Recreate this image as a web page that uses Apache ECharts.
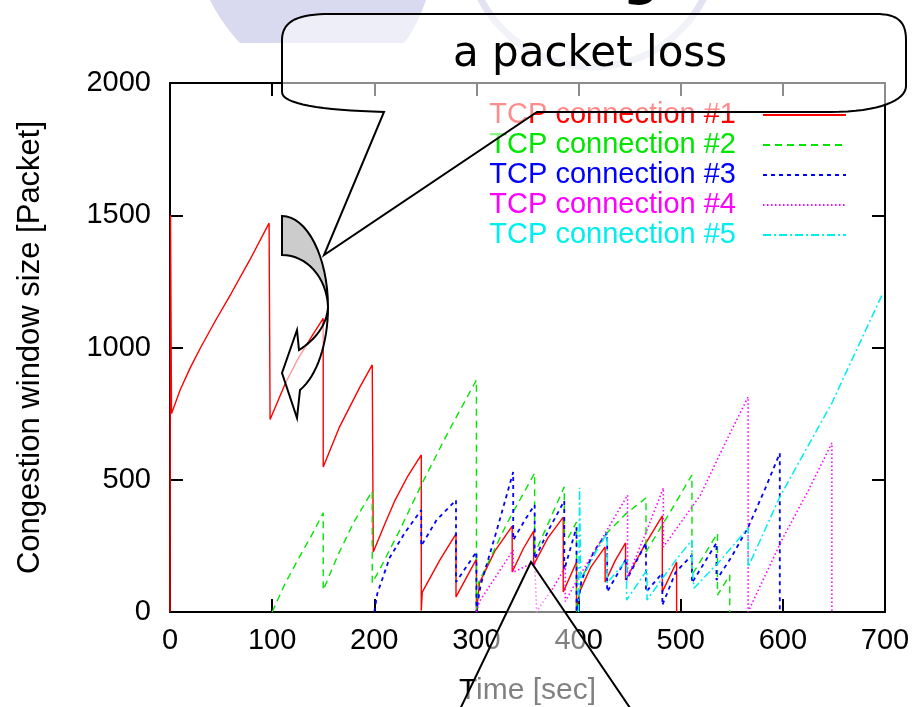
<!DOCTYPE html>
<html>
<head>
<meta charset="utf-8">
<script src="https://cdn.jsdelivr.net/npm/echarts@6/dist/echarts.min.js"></script>
<style>html,body{margin:0;padding:0;background:#fff;}#c{width:918px;height:707px;}</style>
</head>
<body>
<div id="c"></div>
<script>
// ---- data ----
const seriesNames = ['TCP connection #1','TCP connection #2','TCP connection #3','TCP connection #4','TCP connection #5'];
const xTickValues = [0,100,200,300,400,500,600,700];
const yTickValues = [0,500,1000,1500,2000];

const conn1 = [
[0,0],[0.5,1500],[1.5,750],[10,840],[20,925],[30,1000],[45,1105],[60,1205],[78,1330],[97,1470],
[98,728],[113,865],[125,955],[140,1050],[150,1110],
[150,548],[166,700],[186,851],[198,934],
[199,227],[210,330],[220,420],[233,515],[246,594],
[246,5],[247,75],[264,195],[280,295],
[280,57],[300,200],
[300,0],[303,110],[318,230],[335,325],
[335,151],[346,240],[356,306],
[356,178],[370,280],[385,359],
[385,76],[398,189],
[398,5],[401,76],[412,170],[426,246],
[426,113],[436,195],[446,261],
[446,121],[465,255],[482,363],
[482,76],[496,189],[496,0]
];
const conn2 = [
[100,0],[113,110],[127,210],[140,300],[150,375],
[150,83],[165,220],[180,340],[198,457],
[198,110],[206,166],[225,310],[247,488],[273,685],[300,877],
[300,0],[302,110],[330,336],[357,525],
[357,220],[372,350],[386,473],
[386,253],[398,340],
[398,0],[403,130],[424,284],[446,370],[466,431],
[466,227],[490,380],[511,518],
[511,140],[536,298],
[536,64],[548,140],[548,0]
];
const conn3 = [
[200,0],[203,70],[215,205],[230,300],[246,386],
[246,250],[261,348],[280,423],
[280,113],[300,227],
[300,0],[304,100],[320,310],[336,529],
[336,272],[347,345],[357,405],
[357,200],[372,320],[386,420],
[386,160],[398,320],
[398,0],[403,120],[415,230],[428,299],
[428,76],[447,204],
[447,121],[466,261],
[466,76],[482,147],
[482,26],[495,150],[511,215],
[511,110],[535,261],
[535,121],[550,210],[566,320],[582,460],[597,600],
[597,0]
];
const conn4 = [
[300,0],[303,40],[320,140],[336,234],
[336,150],[357,190],
[359,0],[362,20],[375,90],[387,170],
[387,40],[400,130],[424,284],[448,442],
[448,132],[467,310],[483,469],
[483,246],[519,440],[545,650],[566,813],
[566,0],[570,34],[599,272],[625,460],[648,639],
[648,0]
];
const conn5 = [
[400,0],[401,470],[402,130],[404,132],[416,220],[428,299],
[428,110],[447,197],
[447,45],[467,159],
[467,45],[483,132],[497,205],[511,272],
[511,185],[513,90],[540,200],[566,318],
[566,170],[597,435],[622,610],[648,790],[672,990],[697,1198]
];
const seriesData = [conn1, conn2, conn3, conn4, conn5];

// ---- styles ----
const colors = ['#ff0000','#00e600','#0000ff','#ff00ff','#00eeee'];
const dashes = ['solid',[7,5],[4,4],[1.5,2.5],[8,3,2,3]];
const widths = [1.4,1.4,1.8,1.6,1.5];
const FONT = "'Liberation Sans', Arial, Helvetica, sans-serif";

// flatten simple path segments (M/L/C/Q) into polygon points for decorative shapes
function flatten(segs){
  const pts=[]; let cx=0, cy=0;
  segs.forEach(s=>{
    const t=s[0];
    if(t==='M'||t==='L'){cx=s[1];cy=s[2];pts.push([cx,cy]);}
    else if(t==='C'){
      const [_,x1,y1,x2,y2,x,y]=s;
      for(let i=1;i<=16;i++){const u=i/16,v=1-u;
        pts.push([v*v*v*cx+3*v*v*u*x1+3*v*u*u*x2+u*u*u*x, v*v*v*cy+3*v*v*u*y1+3*v*u*u*y2+u*u*u*y]);}
      cx=x;cy=y;
    } else if(t==='Q'){
      const [_,x1,y1,x,y]=s;
      for(let i=1;i<=16;i++){const u=i/16,v=1-u;
        pts.push([v*v*cx+2*v*u*x1+u*u*x, v*v*cy+2*v*u*y1+u*u*y]);}
      cx=x;cy=y;
    }
  });
  return pts;
}

const lavender = flatten([['M',210,0],['L',426,0],['Q',416,28,404,43],['L',240,43],['Q',222,24,210,0]]);
const callout = flatten([['M',282,40],['C',282,20,300,14,330,14],['L',876,14],['C',898,14,906,22,906,40],['L',906,86],
  ['C',906,100,880,112,830,112],['L',537,112],['L',324,255],['L',384,112],['C',320,110,282,104,282,92]]);
const arrowBack = flatten([['M',282,216],['C',307,216,328,257,328,307],['C',327,278,307,255,282,255]]);
const arrowFront = flatten([['M',328,307],['C',328,343,317,376,300,390],['L',297,418],['L',282,373],['L',297,330],['L',299,350],['C',315,340,327,325,328,307]]);

const chart = echarts.init(document.getElementById('c'), null, {renderer:'canvas'});

const axisCommon = {
  type:'value', splitLine:{show:false},
  axisLine:{show:true, onZero:false, lineStyle:{color:'#000', width:2}},
  axisTick:{show:true, inside:true, length:13, lineStyle:{color:'#000', width:2}}
};

const option = {
  animation:false,
  backgroundColor:'#fff',
  grid:{left:170, right:33, top:83, bottom:95, containLabel:false, outerBoundsMode:'none'},
  xAxis:[
    Object.assign({}, axisCommon, {
      position:'bottom', min:xTickValues[0], max:xTickValues[xTickValues.length-1], interval:100,
      axisLabel:{show:true, margin:14, fontSize:29, color:'#000', fontFamily:FONT, formatter:v=>String(v)},
      name:'Time [sec]', nameLocation:'middle', nameGap:64,
      nameTextStyle:{fontSize:30, color:'#000', fontFamily:FONT}
    }),
    Object.assign({}, axisCommon, {
      position:'top', min:xTickValues[0], max:xTickValues[xTickValues.length-1], interval:100,
      axisLabel:{show:false}
    })
  ],
  yAxis:[
    Object.assign({}, axisCommon, {
      position:'left', min:yTickValues[0], max:yTickValues[yTickValues.length-1], interval:500,
      axisLabel:{show:true, margin:19, fontSize:29, color:'#000', fontFamily:FONT, formatter:v=>String(v)},
      name:'Congestion window size [Packet]', nameLocation:'middle', nameGap:124, nameRotate:90,
      nameTextStyle:{fontSize:31, color:'#000', fontFamily:FONT}
    }),
    Object.assign({}, axisCommon, {
      position:'right', min:yTickValues[0], max:yTickValues[yTickValues.length-1], interval:500,
      axisLabel:{show:false}
    })
  ],
  legend:{
    orient:'vertical', right:66, top:95, align:'right',
    itemWidth:83, itemHeight:10, itemGap:0, selectedMode:false,
    itemStyle:{opacity:0},
    textStyle:{fontSize:29, fontFamily:FONT, lineHeight:30, padding:[0,22,0,0]},
    data: seriesNames.map((n,i)=>({name:n, textStyle:{color:colors[i]}}))
  },
  series: seriesData.map((d,i)=>({
    type:'line', name:seriesNames[i], data:d, xAxisIndex:0, yAxisIndex:0,
    symbol:'none', showSymbol:false, silent:true, clip:true,
    lineStyle:{color:colors[i], width:widths[i], type:dashes[i]},
    itemStyle:{color:colors[i]}
  })),
  graphic:[
    {type:'polygon', z:1, shape:{points:lavender}, style:{fill:'#d9d9ef'}},
    {type:'circle', z:1, shape:{cx:592, cy:-58, r:125}, style:{fill:'none', stroke:'#e2e2f2', lineWidth:7}},
    {type:'text', z:1, x:641, y:7, style:{text:'g', fontSize:50, fontWeight:'bold', fontFamily:"'DejaVu Sans', sans-serif", fill:'#000', align:'center', verticalAlign:'bottom'}},
    {type:'polygon', z:100, shape:{points:callout}, style:{fill:'rgba(255,255,255,0.55)', stroke:'#000', lineWidth:2}},
    {type:'text', z:101, x:590, y:55, style:{text:'a packet loss', fontSize:42, fontFamily:"'DejaVu Sans', sans-serif", fill:'#000', align:'center', verticalAlign:'middle'}},
    {type:'polygon', z:100, shape:{points:arrowBack}, style:{fill:'#cccccc', stroke:'#000', lineWidth:2}},
    {type:'polygon', z:100, shape:{points:arrowFront}, style:{fill:'rgba(255,255,255,0.6)', stroke:'#000', lineWidth:2}},
    {type:'polygon', z:100, shape:{points:[[450,730],[531,562],[645,730]]}, style:{fill:'rgba(255,255,255,0.5)', stroke:'#000', lineWidth:2}}
  ]
};
chart.setOption(option);
</script>
</body>
</html>
